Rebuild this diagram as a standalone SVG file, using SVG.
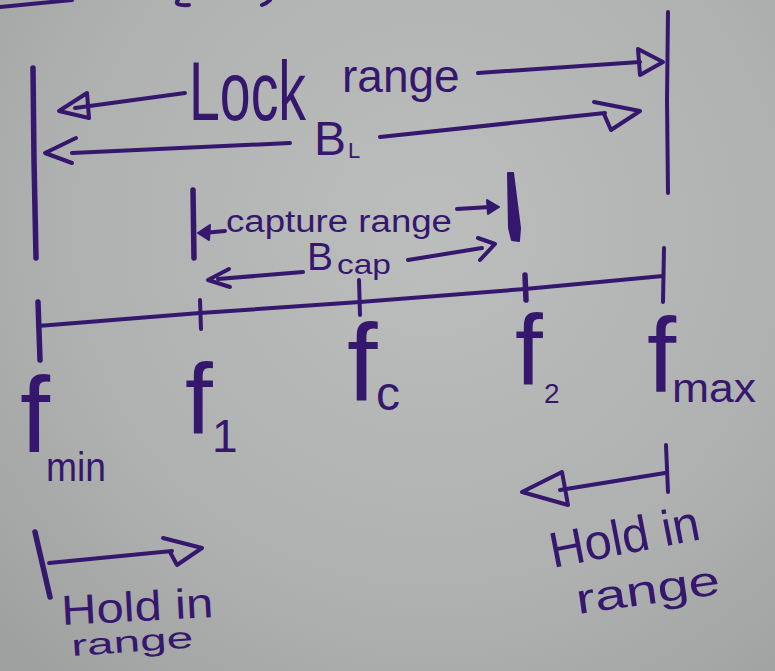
<svg xmlns="http://www.w3.org/2000/svg" width="775" height="671" viewBox="0 0 775 671">
<defs>
<radialGradient id="paper" cx="430" cy="230" r="620" gradientUnits="userSpaceOnUse">
<stop offset="0" stop-color="#bcbebd"/>
<stop offset="0.6" stop-color="#afb1b0"/>
<stop offset="1" stop-color="#9d9f9e"/>
</radialGradient>
<style>
.ink{stroke:#35176e;fill:none;stroke-linecap:round;stroke-linejoin:round;stroke-width:4}
.thick{stroke-width:5.5}
.solid{fill:#35176e;stroke:#35176e;stroke-width:2;stroke-linejoin:round}
.t{font-family:"Liberation Sans",Arial,sans-serif;fill:#35176e}
</style>
</defs>
<rect width="775" height="671" fill="url(#paper)"/>

<g id="fragments">
<path class="ink" d="M0 7 L72 0"/>
<path class="ink" d="M178 0 Q173 6 189 5" stroke-width="3"/>
<path class="ink" d="M270 0 Q267 3 262 5" stroke-width="3"/>
</g>

<g id="connectors">
<!-- lock range bounds -->
<path class="ink thick" d="M33 68 L34 160 L36 258"/>
<path class="ink" d="M668 12 L667 100 L668 193"/>
<!-- Lock range arrows -->
<path class="ink" d="M75 108 L185 93"/>
<path class="ink" d="M87 93 L59 111 L89 118 Z"/>
<path class="ink" d="M478 73 L640 62"/>
<path class="ink" d="M638 49 L663 62 L640 75 Z"/>
<!-- B_L arrows -->
<path class="ink" d="M72 153 L290 143"/>
<path class="ink" d="M76 138 L45 153 L72 163"/>
<path class="ink" d="M380 137 L605 113"/>
<path class="ink" d="M594 102 L640 111 L611 130 L604 114"/>
<!-- capture range -->
<path class="ink thick" d="M193 190 L194 258"/>
<path class="ink" d="M225 231 L203 233"/>
<path class="solid" d="M198 233 L210 225 L209 240 Z"/>
<path class="ink" d="M457 209 L490 207"/>
<path class="solid" d="M499 207 L487 200 L488 214 Z"/>
<path class="solid" d="M508 173 L513 173 L520 228 L519 241 L512 240 L509 228 Z"/>
<!-- B_cap arrows -->
<path class="ink" d="M303 272 L218 279"/>
<path class="ink" d="M229 269 L208 280 L230 287"/>
<path class="ink" d="M408 260 L482 248"/>
<path class="ink" d="M478 238 L495 244 L480 260"/>
<!-- frequency axis -->
<path class="ink" d="M38 326 L200 313 L360 302 L525 289 L663 276"/>
<path class="ink thick" d="M38 302 L40 360"/>
<path class="ink" d="M200 300 L201 329" stroke-width="7"/>
<path class="ink" d="M359 280 L360 315" stroke-width="6.5"/>
<path class="ink thick" d="M525 275 L526 300"/>
<path class="ink" d="M664 248 L663 302"/>
<!-- hold in range left -->
<path class="ink thick" d="M35 532 L50 597"/>
<path class="ink" d="M49 563 L172 551"/>
<path class="ink" d="M163 538 L202 548 L177 565 L170 552"/>
<!-- hold in range right -->
<path class="ink" d="M666 445 L668 492" stroke-width="6"/>
<path class="ink" d="M665 473 L560 490"/>
<path class="ink" d="M562 472 L522 492 L568 505 Z"/>
</g>

<g id="lock-range-label">
<text class="t" font-size="84" transform="translate(189 120) scale(0.66 1)">Lock</text>
<text class="t" x="342" y="92" font-size="46">range</text>
</g>
<g id="bl-label">
<text class="t" x="314" y="155" font-size="48">B</text>
<text class="t" x="348" y="158" font-size="22">L</text>
</g>
<g id="capture-range-label">
<text class="t" x="226" y="232" font-size="31" textLength="226" lengthAdjust="spacingAndGlyphs">capture range</text>
</g>
<g id="bcap-label">
<text class="t" x="307" y="270" font-size="39">B</text>
<text class="t" x="337" y="274" font-size="28" textLength="54" lengthAdjust="spacingAndGlyphs">cap</text>
</g>
<g id="fmin">
<text class="t" x="20" y="452" font-size="108">f</text>
<text class="t" x="46" y="481" font-size="40" textLength="60" lengthAdjust="spacingAndGlyphs">min</text>
</g>
<g id="f1">
<text class="t" x="185" y="434" font-size="100">f</text>
<text class="t" x="212" y="452" font-size="46">1</text>
</g>
<g id="fc">
<text class="t" x="347" y="400" font-size="110">f</text>
<text class="t" x="376" y="410" font-size="48">c</text>
</g>
<g id="f2">
<text class="t" x="515" y="385" font-size="100">f</text>
<text class="t" x="544" y="403" font-size="28">2</text>
</g>
<g id="fmax">
<text class="t" x="647" y="392" font-size="105">f</text>
<text class="t" x="672" y="402" font-size="40" textLength="84" lengthAdjust="spacingAndGlyphs">max</text>
</g>
<g id="hold-in-left">
<text class="t" x="62" y="625" font-size="42" textLength="152" lengthAdjust="spacingAndGlyphs" transform="rotate(-3 62 625)">Hold in</text>
<text class="t" x="72" y="656" font-size="30" textLength="122" lengthAdjust="spacingAndGlyphs" transform="rotate(-4 72 656)">range</text>
</g>
<g id="hold-in-right">
<text class="t" x="553" y="568" font-size="50" textLength="152" lengthAdjust="spacingAndGlyphs" transform="rotate(-11 553 568)">Hold in</text>
<text class="t" x="578" y="614" font-size="42" textLength="145" lengthAdjust="spacingAndGlyphs" transform="rotate(-8 578 614)">range</text>
</g>
</svg>
